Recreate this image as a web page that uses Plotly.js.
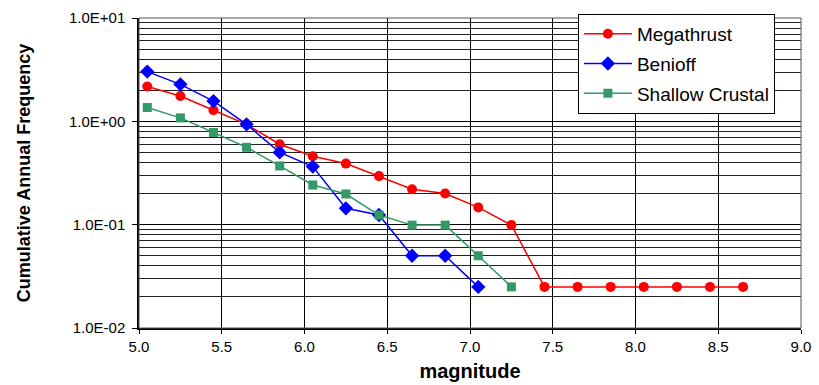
<!DOCTYPE html>
<html>
<head>
<script src="https://cdn.plot.ly/plotly-3.0.1.min.js"></script>
<style>body{margin:0;background:#fff}#chart{width:819px;height:385px}</style>
</head>
<body>
<div id="chart"></div>
<script>
const megaX = [5.05,5.25,5.45,5.65,5.85,6.05,6.25,6.45,6.65,6.85,7.05,7.25,7.45,7.65,7.85,8.05,8.25,8.45,8.65];
const megaY = [2.17,1.76,1.28,0.935,0.6,0.46,0.39,0.295,0.22,0.2,0.147,0.099,0.025,0.025,0.025,0.025,0.025,0.025,0.025];
const benX = [5.05,5.25,5.45,5.65,5.85,6.05,6.25,6.45,6.65,6.85,7.05];
const benY = [3.03,2.28,1.57,0.935,0.5,0.365,0.144,0.124,0.05,0.05,0.025];
const shX = [5.05,5.25,5.45,5.65,5.85,6.05,6.25,6.45,6.65,6.85,7.05,7.25];
const shY = [1.36,1.08,0.78,0.56,0.37,0.242,0.198,0.124,0.099,0.099,0.05,0.025];
const yTickVals = [0.01,0.1,1,10];
const yTickText = ['1.0E-02','1.0E-01','1.0E+00','1.0E+01'];
const xTickVals = [5.0,5.5,6.0,6.5,7.0,7.5,8.0,8.5,9.0];
const xTickText = ['5.0','5.5','6.0','6.5','7.0','7.5','8.0','8.5','9.0'];
const minorVals = [];
[0.01,0.1,1].forEach(d=>{for(let k=2;k<=9;k++) minorVals.push(d*k);});

const traces = [
 {x:megaX,y:megaY,name:'Megathrust',legendgroup:'a',mode:'lines+markers',line:{color:'#FF0000',width:1.5},marker:{symbol:'circle',size:10,color:'#FF0000'}},
 {x:benX,y:benY,name:'Benioff',legendgroup:'b',mode:'lines+markers',line:{color:'#0000FF',width:1.5},marker:{symbol:'diamond',size:11,color:'#0000FF'}},
 {x:shX,y:shY,name:'Shallow Crustal',legendgroup:'c',mode:'lines+markers',line:{color:'#339966',width:1.5},marker:{symbol:'square',size:9,color:'#339966'}}
];
const layout = {
 width:819,height:385,
 margin:{l:139,r:18,t:18,b:57},
 paper_bgcolor:'#fff',plot_bgcolor:'#fff',
 font:{family:'Liberation Sans, Arial, sans-serif',color:'#000'},
 showlegend:true,
 legend:{x:0.663,xanchor:'left',y:1.013,yanchor:'top',bordercolor:'#000',borderwidth:1,bgcolor:'#fff',
   font:{size:19,family:'Liberation Sans, Arial, sans-serif'},tracegroupgap:2,itemwidth:48},
 xaxis:{range:[5,9],tickmode:'array',tickvals:xTickVals,ticktext:xTickText,showgrid:true,gridcolor:'#000',gridwidth:1,
   ticks:'outside',ticklen:4,tickcolor:'#000',showline:true,linecolor:'#000',linewidth:1.5,mirror:false,zeroline:false,
   tickfont:{size:15},title:{text:'<b>magnitude</b>',font:{size:20},standoff:10}},
 yaxis:{type:'log',range:[-2,1],tickmode:'array',tickvals:yTickVals,ticktext:yTickText,showgrid:true,gridcolor:'#000',gridwidth:1,
   ticks:'outside',ticklen:5,tickcolor:'#000',showline:true,linecolor:'#000',linewidth:1.5,zeroline:false,
   ticklabelstandoff:4,
   tickfont:{size:15},title:{text:'<b>Cumulative Annual Frequency</b>',font:{size:18},standoff:34},
   minor:{tickmode:'array',tickvals:minorVals,showgrid:true,gridcolor:'#222',gridwidth:1,ticks:''}},
 shapes:[{type:'rect',xref:'paper',yref:'paper',x0:0,x1:1,y0:0,y1:1,line:{color:'#555',width:1}}]
};
Plotly.newPlot('chart',traces,layout,{displayModeBar:false});
</script>
</body>
</html>
